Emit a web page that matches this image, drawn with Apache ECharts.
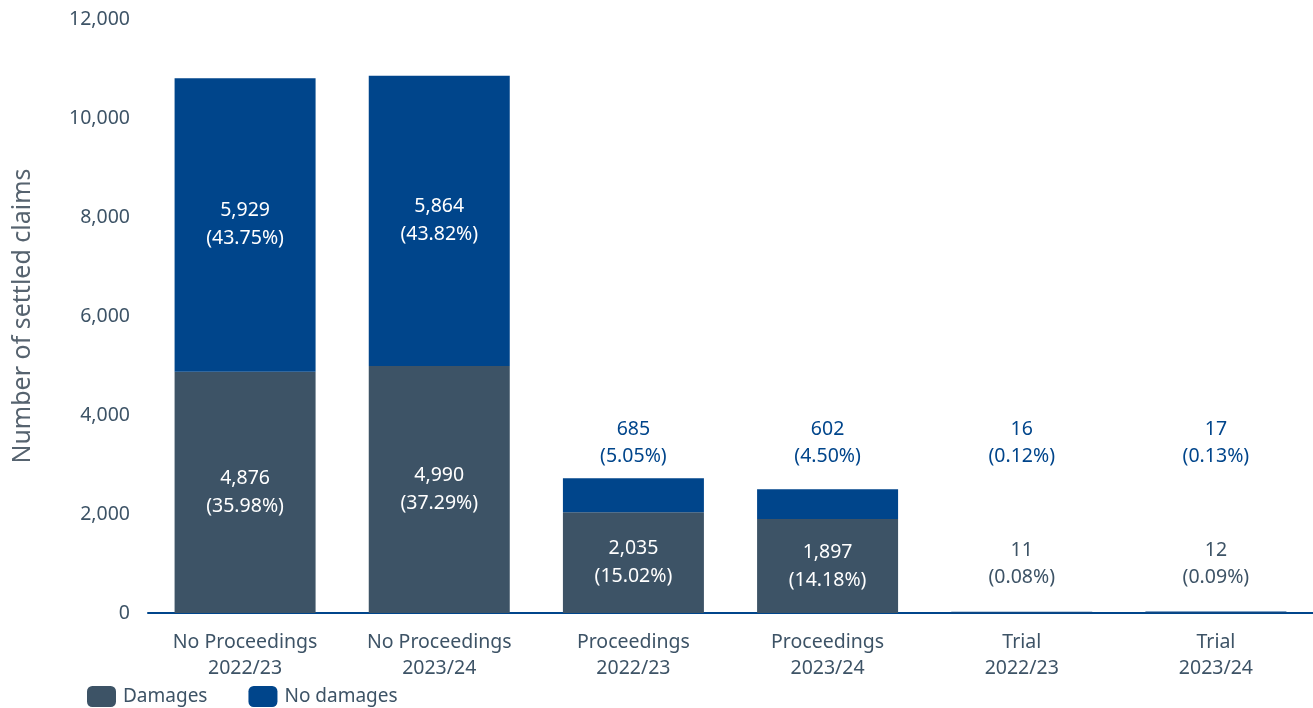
<!DOCTYPE html>
<html>
<head>
<meta charset="utf-8">
<script src="https://cdn.jsdelivr.net/npm/echarts@6/dist/echarts.min.js"></script>
<style>
  html, body { margin: 0; padding: 0; background: #ffffff; }
  #chart { width: 1313px; height: 708px; }
</style>
</head>
<body>
<div id="chart"></div>
<script>
// Settled claims by route and year
const categories = [
  'No Proceedings\n2022/23', 'No Proceedings\n2023/24',
  'Proceedings\n2022/23', 'Proceedings\n2023/24',
  'Trial\n2022/23', 'Trial\n2023/24'
];
const damages = [4876, 4990, 2035, 1897, 11, 12];
const damagesPct = ['35.98%', '37.29%', '15.02%', '14.18%', '0.08%', '0.09%'];
const noDamages = [5929, 5864, 685, 602, 16, 17];
const noDamagesPct = ['43.75%', '43.82%', '5.05%', '4.50%', '0.12%', '0.13%'];
const yTicks = [0, 2000, 4000, 6000, 8000, 10000, 12000];

// Layout: segments too short for an inside label get it at a fixed height
const OUTSIDE_LABEL_MIN = 1000;
const UPPER_LABEL_LEVEL = 3440;
const LOWER_LABEL_LEVEL = 1000;

const DARK = '#3d5366';
const BLUE = '#00458b';
const TEXT = '#3d5366';
const FONT = '"Noto Sans", "Open Sans", sans-serif';
const FS = 19.5;

const fmt = v => v.toLocaleString('en-US');

const labelText = (vals, pcts) => vals.map((v, i) => fmt(v) + '\n(' + pcts[i] + ')');
const damagesText = labelText(damages, damagesPct);
const noDamagesText = labelText(noDamages, noDamagesPct);

// Segment data, with inside labels only where the segment is tall enough
const segData = (vals, texts) => vals.map((v, i) => ({
  value: v,
  label: { show: v >= OUTSIDE_LABEL_MIN, formatter: texts[i] }
}));

// Anchors for the labels of the short segments
const upperAnchors = noDamages.map((v, i) => v < OUTSIDE_LABEL_MIN
  ? { value: [categories[i], UPPER_LABEL_LEVEL], text: noDamagesText[i] } : null).filter(Boolean);
const lowerAnchors = damages.map((v, i) => v < OUTSIDE_LABEL_MIN
  ? { value: [categories[i], LOWER_LABEL_LEVEL], text: damagesText[i] } : null).filter(Boolean);

const chart = echarts.init(document.getElementById('chart'), null, { renderer: 'canvas' });

const barLabel = { position: 'inside', color: '#ffffff', fontSize: FS, lineHeight: 28, fontFamily: FONT };
const anchorLabel = color => ({
  show: true, position: 'inside', color: color, opacity: 1,
  fontSize: FS, lineHeight: 27, fontFamily: FONT,
  formatter: p => p.data.text
});

chart.setOption({
  animation: false,
  textStyle: { fontFamily: FONT },
  grid: { left: 148, right: 0, top: 19, bottom: 95, containLabel: false },
  legend: {
    data: ['Damages', 'No damages'],
    left: 82, bottom: -4,
    icon: 'roundRect',
    itemWidth: 29, itemHeight: 21, itemGap: 41,
    textStyle: { color: TEXT, fontSize: 19, fontFamily: FONT, padding: [0, 0, 0, 2] }
  },
  xAxis: {
    type: 'category',
    data: categories,
    axisLine: { show: true, lineStyle: { color: BLUE, width: 2 } },
    axisTick: { show: false },
    axisLabel: { color: TEXT, fontSize: FS, lineHeight: 26, margin: 16, fontFamily: FONT }
  },
  yAxis: {
    type: 'value',
    min: 0, max: 12000, interval: 2000,
    name: 'Number of settled claims',
    nameLocation: 'middle',
    nameGap: 113,
    nameTextStyle: { color: '#56636f', fontSize: 25, fontFamily: FONT },
    axisLine: { show: false },
    axisTick: { show: false },
    splitLine: { show: false },
    axisLabel: {
      color: TEXT, fontSize: FS, margin: 18, fontFamily: FONT,
      formatter: v => yTicks.includes(v) ? fmt(v) : ''
    }
  },
  series: [
    {
      name: 'Damages', type: 'bar', stack: 'claims', barWidth: 141,
      itemStyle: { color: DARK },
      label: barLabel,
      data: segData(damages, damagesText)
    },
    {
      name: 'No damages', type: 'bar', stack: 'claims', barWidth: 141,
      itemStyle: { color: BLUE },
      label: barLabel,
      data: segData(noDamages, noDamagesText)
    },
    {
      name: 'upper-labels', type: 'scatter', symbolSize: 0, silent: true,
      itemStyle: { opacity: 1 },
      label: anchorLabel(BLUE),
      data: upperAnchors
    },
    {
      name: 'lower-labels', type: 'scatter', symbolSize: 0, silent: true,
      itemStyle: { opacity: 1 },
      label: anchorLabel(TEXT),
      data: lowerAnchors
    }
  ]
});
</script>
</body>
</html>
